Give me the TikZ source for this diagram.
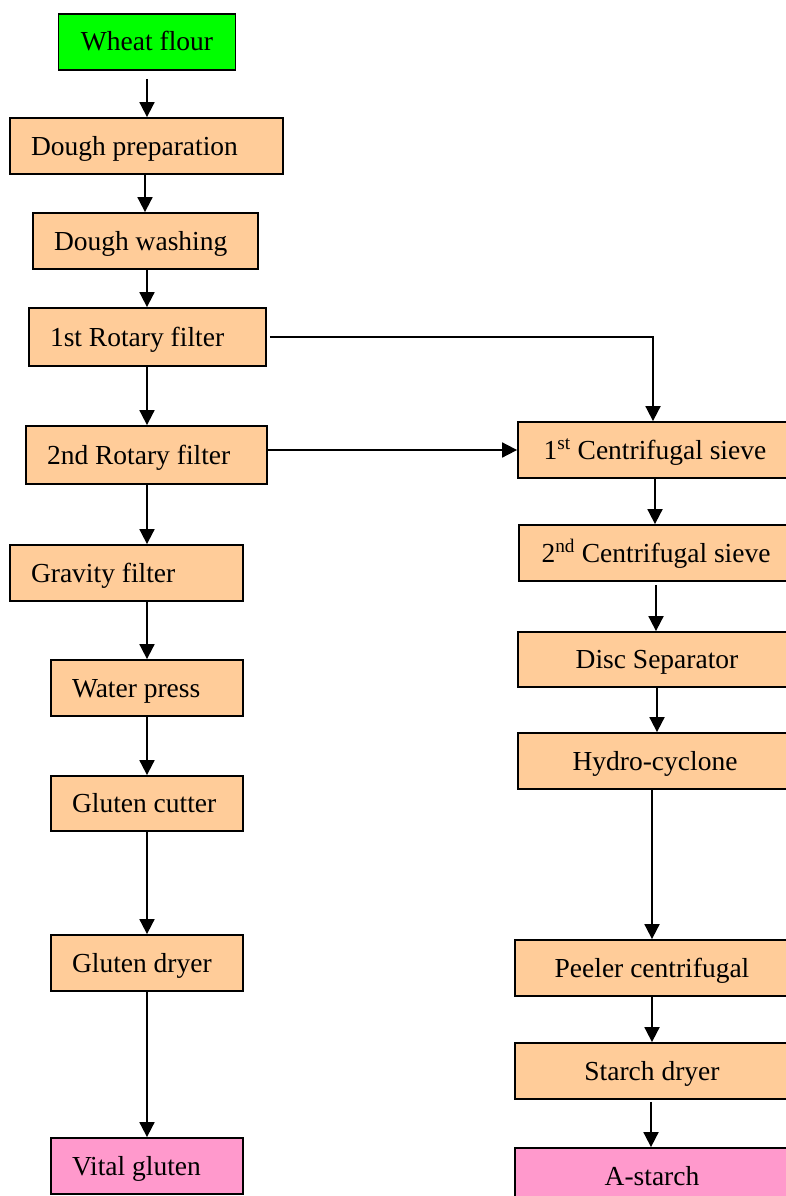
\documentclass[tikz,border=0pt]{standalone}
\usepackage{fontspec}
\setmainfont{Liberation Serif}
\usetikzlibrary{arrows.meta}
\definecolor{boxorange}{HTML}{FFCC99}
\definecolor{boxgreen}{HTML}{00FF00}
\definecolor{boxpink}{HTML}{FF99CC}
\tikzset{
  box/.style={draw=black, line width=1.8pt, fill=boxorange, rectangle, inner sep=0pt,
    text height=19pt, text depth=1pt,
    font=\fontsize{27.5}{32}\selectfont},
  leftbox/.style={box, inner xsep=21pt, text width=#1-42pt, minimum height=56pt, align=flush left},
  centerbox/.style={box, minimum width=#1, minimum height=56pt, align=center},
  arr/.style={line width=1.8pt, -{Triangle[length=15pt,width=15pt]}}
}
\begin{document}
\begin{tikzpicture}[x=1pt,y=-1pt]
\useasboundingbox (0,0) rectangle (786,1196);
\clip (0,0) rectangle (786,1196);
% left column
\node[centerbox=177pt, fill=boxgreen] (wf) at (147,42) {Wheat flour};
\node[leftbox=273pt] (dp) at (146.5,146) {Dough preparation};
\node[leftbox=225pt] (dw) at (145.5,241) {Dough washing};
\node[leftbox=237pt, minimum height=58pt] (r1) at (147.5,337) {1st Rotary filter};
\node[leftbox=241pt, minimum height=58pt] (r2) at (146.5,455) {2nd Rotary filter};
\node[leftbox=233pt] (gf) at (126.5,573) {Gravity filter};
\node[leftbox=192pt] (wp) at (147,688) {Water press};
\node[leftbox=192pt, minimum height=55pt] (gc) at (147,803.5) {Gluten cutter};
\node[leftbox=192pt] (gd) at (147,963) {Gluten dryer};
\node[leftbox=192pt, fill=boxpink] (vg) at (147,1166) {Vital gluten};
% right column
\node[centerbox=274pt] (c1) at (655,450) {1\textsuperscript{st} Centrifugal sieve};
\node[centerbox=274pt] (c2) at (656,553) {2\textsuperscript{nd} Centrifugal sieve};
\node[centerbox=278pt, minimum height=55pt] (ds) at (657,659.5) {Disc Separator};
\node[centerbox=274pt] (hc) at (655,761) {Hydro-cyclone};
\node[centerbox=274pt] (pc) at (652,968) {Peeler centrifugal};
\node[centerbox=274pt] (sd) at (652,1071) {Starch dryer};
\node[centerbox=274pt, fill=boxpink] (as) at (652,1176) {A-starch};
% left arrows
\draw[arr, shorten <=8pt] (wf.south) -- (wf.south |- dp.north);
\draw[arr] (dp.south -| 145,0) -- (dw.north -| 145,0);
\draw[arr] (dw.south -| 147,0) -- (r1.north -| 147,0);
\draw[arr] (r1.south -| 147,0) -- (r2.north -| 147,0);
\draw[arr] (r2.south -| wp.north) -- (gf.north -| wp.north);
\draw[arr] (gf.south -| wp.north) -- (wp.north);
\draw[arr] (wp.south) -- (gc.north);
\draw[arr] (gc.south) -- (gd.north);
\draw[arr] (gd.south) -- (vg.north);
% cross connectors
\draw[arr, shorten <=3pt] (r1.east) -| (c1.north -| 653,0);
\draw[arr] (r2.east |- c1.west) -- (c1.west);
% right arrows
\draw[arr] (c1.south) -- (c1.south |- c2.north);
\draw[arr, shorten <=3pt] (c2.south) -- (c2.south |- ds.north);
\draw[arr] (ds.south) -- (ds.south |- hc.north);
\draw[arr] (hc.south -| pc.north) -- (pc.north);
\draw[arr] (pc.south) -- (sd.north);
\draw[arr, shorten <=2pt] (sd.south -| 651,0) -- (as.north -| 651,0);
\end{tikzpicture}
\end{document}
